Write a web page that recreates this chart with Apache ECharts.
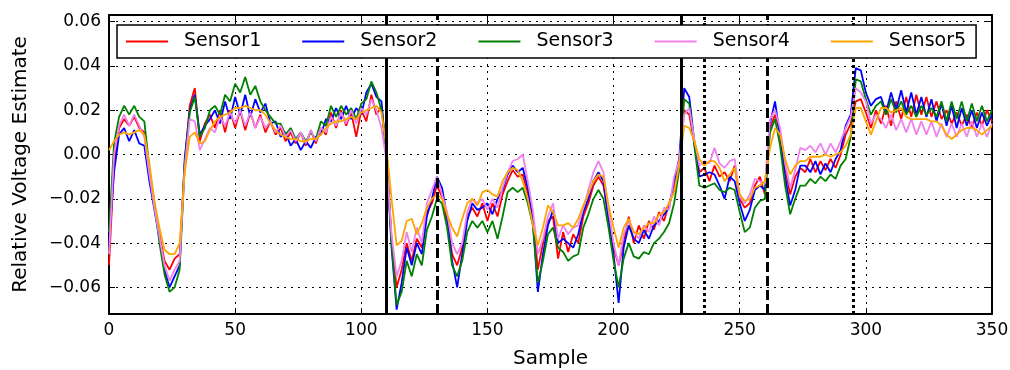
<!DOCTYPE html>
<html>
<head>
<meta charset="utf-8">
<title>Relative Voltage Estimate</title>
<script src="https://cdn.jsdelivr.net/npm/echarts@6/dist/echarts.min.js"></script>
<style>
html, body { margin: 0; padding: 0; background: #fff; }
#chart { width: 1010px; height: 370px; }
</style>
</head>
<body>
<div id="chart"></div>
<script>
// sample index, one reading every 2 samples
var samples = [];
for (var i = 0; i <= 350; i += 2) {
	samples.push(i);
}

var sensor1 = [
	-0.050, -0.005, 0.012, 0.016, 0.013, 0.017, 0.012, 0.010, -0.008, -0.023,
	-0.036, -0.048, -0.052, -0.047, -0.045, -0.004, 0.022, 0.030, 0.006, 0.014,
	0.018, 0.012, 0.020, 0.010, 0.020, 0.012, 0.020, 0.011, 0.019, 0.012,
	0.018, 0.010, 0.015, 0.009, 0.012, 0.006, 0.010, 0.005, 0.010, 0.004,
	0.011, 0.005, 0.012, 0.009, 0.019, 0.012, 0.020, 0.013, 0.019, 0.008,
	0.020, 0.015, 0.027, 0.018, 0.022, 0.000, -0.038, -0.060, -0.052, -0.040,
	-0.048, -0.038, -0.042, -0.026, -0.022, -0.014, -0.019, -0.030, -0.045, -0.050,
	-0.042, -0.028, -0.024, -0.028, -0.022, -0.030, -0.022, -0.028, -0.018, -0.012,
	-0.007, -0.010, -0.009, -0.018, -0.028, -0.052, -0.040, -0.030, -0.028, -0.047,
	-0.035, -0.044, -0.036, -0.040, -0.028, -0.022, -0.014, -0.010, -0.014, -0.028,
	-0.042, -0.050, -0.040, -0.028, -0.040, -0.032, -0.038, -0.030, -0.034, -0.026,
	-0.030, -0.022, -0.016, -0.004, 0.020, 0.018, 0.005, -0.008, -0.006, -0.012,
	-0.005, -0.010, -0.008, -0.012, -0.005, -0.020, -0.024, -0.022, -0.014, -0.010,
	-0.018, 0.012, 0.018, 0.010, -0.006, -0.018, -0.010, -0.006, -0.008, -0.002,
	-0.008, -0.003, -0.007, -0.002, -0.006, 0.000, 0.009, 0.014, 0.024, 0.025,
	0.019, 0.012, 0.020, 0.014, 0.022, 0.013, 0.024, 0.016, 0.026, 0.017,
	0.027, 0.018, 0.026, 0.017, 0.024, 0.016, 0.020, 0.014, 0.019, 0.013,
	0.018, 0.012, 0.019, 0.013, 0.020, 0.015
];
var sensor2 = [
	-0.040, -0.008, 0.009, 0.012, 0.006, 0.011, 0.005, 0.004, -0.012, -0.025,
	-0.038, -0.052, -0.060, -0.055, -0.050, -0.002, 0.020, 0.027, 0.009, 0.013,
	0.016, 0.020, 0.014, 0.024, 0.016, 0.026, 0.018, 0.027, 0.017, 0.025,
	0.019, 0.023, 0.014, 0.015, 0.008, 0.010, 0.004, 0.007, 0.002, 0.006,
	0.003, 0.008, 0.009, 0.016, 0.015, 0.021, 0.016, 0.022, 0.016, 0.021,
	0.018, 0.028, 0.032, 0.026, 0.024, -0.002, -0.042, -0.070, -0.058, -0.042,
	-0.050, -0.040, -0.045, -0.028, -0.020, -0.010, -0.015, -0.028, -0.048, -0.060,
	-0.045, -0.030, -0.022, -0.025, -0.024, -0.022, -0.027, -0.020, -0.016, -0.009,
	-0.005, -0.008, -0.006, -0.015, -0.030, -0.062, -0.045, -0.032, -0.025, -0.040,
	-0.038, -0.040, -0.042, -0.036, -0.026, -0.020, -0.012, -0.008, -0.012, -0.030,
	-0.045, -0.067, -0.042, -0.032, -0.038, -0.040, -0.034, -0.038, -0.032, -0.030,
	-0.027, -0.024, -0.012, -0.002, 0.030, 0.026, 0.006, -0.010, -0.009, -0.008,
	-0.009, -0.014, -0.020, -0.010, -0.012, -0.022, -0.030, -0.025, -0.016, -0.014,
	-0.016, 0.014, 0.024, 0.008, -0.010, -0.023, -0.016, -0.005, -0.005, -0.008,
	-0.003, -0.009, -0.004, -0.008, -0.002, 0.002, 0.013, 0.018, 0.039, 0.038,
	0.028, 0.022, 0.025, 0.026, 0.019, 0.028, 0.020, 0.029, 0.019, 0.028,
	0.018, 0.026, 0.017, 0.025, 0.015, 0.023, 0.013, 0.022, 0.012, 0.021,
	0.013, 0.020, 0.012, 0.019, 0.013, 0.018
];
var sensor3 = [
	-0.035, 0.005, 0.017, 0.022, 0.018, 0.022, 0.017, 0.015, -0.006, -0.022,
	-0.040, -0.054, -0.062, -0.060, -0.052, -0.005, 0.019, 0.026, 0.008, 0.012,
	0.020, 0.022, 0.018, 0.027, 0.024, 0.032, 0.028, 0.035, 0.027, 0.031,
	0.024, 0.020, 0.017, 0.014, 0.014, 0.009, 0.012, 0.007, 0.010, 0.006,
	0.010, 0.007, 0.015, 0.013, 0.022, 0.017, 0.022, 0.018, 0.021, 0.016,
	0.023, 0.025, 0.033, 0.028, 0.020, 0.002, -0.040, -0.068, -0.062, -0.048,
	-0.055, -0.045, -0.050, -0.034, -0.028, -0.020, -0.022, -0.033, -0.050, -0.055,
	-0.048, -0.035, -0.030, -0.033, -0.030, -0.035, -0.030, -0.038, -0.028, -0.017,
	-0.015, -0.017, -0.015, -0.022, -0.032, -0.058, -0.048, -0.036, -0.033, -0.042,
	-0.044, -0.048, -0.046, -0.045, -0.033, -0.027, -0.020, -0.016, -0.020, -0.033,
	-0.048, -0.060, -0.047, -0.040, -0.046, -0.047, -0.044, -0.045, -0.040, -0.038,
	-0.035, -0.031, -0.022, -0.007, 0.025, 0.023, 0.004, -0.014, -0.015, -0.014,
	-0.013, -0.016, -0.017, -0.015, -0.016, -0.026, -0.035, -0.033, -0.024, -0.021,
	-0.020, 0.010, 0.016, 0.004, -0.014, -0.027, -0.020, -0.014, -0.014, -0.011,
	-0.013, -0.010, -0.012, -0.009, -0.011, -0.005, -0.002, 0.008, 0.034, 0.033,
	0.025, 0.018, 0.022, 0.024, 0.018, 0.025, 0.019, 0.024, 0.018, 0.022,
	0.017, 0.022, 0.018, 0.021, 0.017, 0.024, 0.015, 0.024, 0.016, 0.024,
	0.015, 0.023, 0.015, 0.022, 0.015, 0.020
];
var sensor4 = [
	-0.045, 0.000, 0.013, 0.018, 0.013, 0.018, 0.013, 0.008, -0.009, -0.024,
	-0.037, -0.050, -0.057, -0.052, -0.048, -0.006, 0.016, 0.015, 0.002, 0.007,
	0.012, 0.010, 0.017, 0.013, 0.019, 0.014, 0.020, 0.013, 0.019, 0.012,
	0.017, 0.012, 0.015, 0.010, 0.013, 0.008, 0.011, 0.006, 0.010, 0.005,
	0.011, 0.006, 0.012, 0.010, 0.017, 0.013, 0.019, 0.014, 0.020, 0.014,
	0.021, 0.018, 0.025, 0.020, 0.012, -0.003, -0.036, -0.055, -0.048, -0.035,
	-0.044, -0.033, -0.040, -0.022, -0.016, -0.010, -0.018, -0.026, -0.040, -0.045,
	-0.040, -0.026, -0.020, -0.022, -0.020, -0.025, -0.020, -0.024, -0.015, -0.008,
	-0.003, -0.002, 0.000, -0.012, -0.025, -0.045, -0.038, -0.028, -0.022, -0.038,
	-0.032, -0.036, -0.033, -0.032, -0.024, -0.016, -0.008, -0.003, -0.008, -0.025,
	-0.040, -0.050, -0.036, -0.030, -0.035, -0.038, -0.032, -0.035, -0.028, -0.032,
	-0.024, -0.025, -0.010, -0.003, 0.018, 0.021, 0.007, -0.005, -0.003, -0.004,
	0.003, -0.004, -0.006, -0.003, -0.002, -0.019, -0.022, -0.018, -0.011, -0.012,
	-0.013, 0.016, 0.020, 0.012, -0.004, -0.015, -0.007, 0.003, 0.002, 0.004,
	0.001, 0.005, 0.000, 0.005, 0.001, 0.006, 0.012, 0.017, 0.030, 0.028,
	0.024, 0.014, 0.018, 0.016, 0.012, 0.018, 0.011, 0.016, 0.010, 0.016,
	0.009, 0.015, 0.009, 0.015, 0.008, 0.014, 0.008, 0.014, 0.008, 0.014,
	0.008, 0.015, 0.008, 0.014, 0.008, 0.014
];
var sensor5 = [
	0.002, 0.006, 0.009, 0.010, 0.009, 0.010, 0.011, 0.009, -0.004, -0.021,
	-0.033, -0.043, -0.045, -0.045, -0.040, -0.008, 0.008, 0.010, 0.005, 0.006,
	0.011, 0.015, 0.017, 0.018, 0.019, 0.021, 0.021, 0.022, 0.021, 0.020,
	0.020, 0.018, 0.014, 0.011, 0.009, 0.008, 0.007, 0.007, 0.006, 0.006,
	0.007, 0.007, 0.009, 0.012, 0.014, 0.015, 0.015, 0.016, 0.017, 0.016,
	0.019, 0.020, 0.021, 0.022, 0.019, 0.003, -0.020, -0.041, -0.039, -0.030,
	-0.029, -0.036, -0.031, -0.024, -0.020, -0.018, -0.020, -0.027, -0.033, -0.037,
	-0.029, -0.022, -0.020, -0.023, -0.017, -0.016, -0.018, -0.019, -0.012, -0.008,
	-0.006, -0.007, -0.012, -0.020, -0.032, -0.041, -0.033, -0.023, -0.026, -0.032,
	-0.032, -0.031, -0.033, -0.029, -0.023, -0.018, -0.012, -0.009, -0.010, -0.023,
	-0.033, -0.042, -0.033, -0.029, -0.035, -0.036, -0.033, -0.031, -0.031, -0.027,
	-0.026, -0.022, -0.017, -0.005, 0.013, 0.012, 0.006, -0.002, -0.005, -0.003,
	-0.003, -0.006, -0.012, -0.009, -0.006, -0.018, -0.021, -0.020, -0.015, -0.014,
	-0.012, 0.003, 0.012, 0.009, -0.002, -0.009, -0.005, -0.003, -0.003, -0.001,
	-0.001, -0.001, 0.000, -0.001, 0.000, 0.001, 0.004, 0.009, 0.021, 0.021,
	0.015, 0.009, 0.015, 0.021, 0.021, 0.019, 0.020, 0.021, 0.017, 0.016,
	0.016, 0.016, 0.016, 0.015, 0.015, 0.013, 0.009, 0.007, 0.009, 0.011,
	0.012, 0.012, 0.011, 0.009, 0.011, 0.013
];

var names = ['Sensor1', 'Sensor2', 'Sensor3', 'Sensor4', 'Sensor5'];
var colors = ['#ff0000', '#0000ff', '#008000', '#ee82ee', '#ffa500'];

// event markers (sample index)
var solidMarks = [110, 227];
var dashedMarks = [130, 261];
var dottedMarks = [236, 295];

var FONT = 'DejaVu Sans';

function pairs(values) {
	return values.map(function (v, i) { return [samples[i], v]; });
}

function yLabel(v) {
	if (Math.abs(v) < 1e-9) return '0.00';
	return (v < 0 ? '\u2212' : '') + Math.abs(v).toFixed(2);
}

var markData = [];
solidMarks.forEach(function (x) {
	markData.push({ xAxis: x, lineStyle: { color: '#000', width: 3, type: 'solid' } });
});
dashedMarks.forEach(function (x) {
	markData.push({ xAxis: x, lineStyle: { color: '#000', width: 3, type: [10, 4] } });
});
dottedMarks.forEach(function (x) {
	markData.push({ xAxis: x, lineStyle: { color: '#000', width: 3, type: [3, 3] } });
});

var series = [sensor1, sensor2, sensor3, sensor4, sensor5].map(function (vals, k) {
	return {
		name: names[k],
		type: 'line',
		data: pairs(vals),
		symbol: 'none',
		lineStyle: { color: colors[k], width: 1.8 },
		itemStyle: { color: colors[k] },
		emphasis: { disabled: true }
	};
});
// vertical event lines drawn with the last series
series[4].markLine = {
	silent: true,
	symbol: ['none', 'none'],
	label: { show: false },
	animation: false,
	data: markData
};

var gridLine = { show: true, lineStyle: { color: '#000', width: 1, type: [2, 5] } };
var frame = { show: true, onZero: false, lineStyle: { color: '#000', width: 2 } };
var ticks = { show: true, inside: true, length: 6, lineStyle: { color: '#000', width: 1 } };

var myChart = echarts.init(document.getElementById('chart'));
myChart.setOption({
	animation: false,
	backgroundColor: '#fff',
	textStyle: { fontFamily: FONT },
	grid: { left: 109, right: 18, top: 15, bottom: 56, containLabel: false, outerBoundsMode: 'none' },
	legend: {
		data: names,
		z: 100,
		left: 117,
		top: 25,
		icon: 'rect',
		itemWidth: 42,
		itemHeight: 2,
		itemGap: 41,
		padding: [7, 10, 7, 9],
		selectedMode: false,
		backgroundColor: '#fff',
		borderColor: '#000',
		borderWidth: 1.5,
		borderRadius: 0,
		textStyle: { color: '#000', fontSize: 19, fontFamily: FONT, padding: [0, 0, 0, 11] }
	},
	xAxis: [
		{
			type: 'value', min: 0, max: 350, interval: 50, position: 'bottom',
			name: 'Sample', nameLocation: 'middle', nameGap: 35,
			nameTextStyle: { color: '#000', fontSize: 20, fontFamily: FONT },
			axisLine: frame, axisTick: ticks,
			axisLabel: { color: '#000', fontSize: 17, margin: 8, fontFamily: FONT },
			splitLine: gridLine
		},
		{
			type: 'value', min: 0, max: 350, interval: 50, position: 'top',
			axisLine: frame, axisTick: ticks,
			axisLabel: { show: false }, splitLine: { show: false }
		}
	],
	yAxis: [
		{
			type: 'value', min: -0.072, max: 0.063, splitNumber: 7, position: 'left',
			name: 'Relative Voltage Estimate', nameLocation: 'middle', nameGap: 78,
			nameTextStyle: { color: '#000', fontSize: 20, fontFamily: FONT },
			axisLine: frame, axisTick: ticks,
			axisLabel: { color: '#000', fontSize: 17, margin: 8, fontFamily: FONT,
				showMinLabel: false, showMaxLabel: false, formatter: yLabel },
			splitLine: gridLine
		},
		{
			type: 'value', min: -0.072, max: 0.063, splitNumber: 7, position: 'right',
			axisLine: frame, axisTick: ticks,
			axisLabel: { show: false }, splitLine: { show: false }
		}
	],
	series: series
});
</script>
</body>
</html>
